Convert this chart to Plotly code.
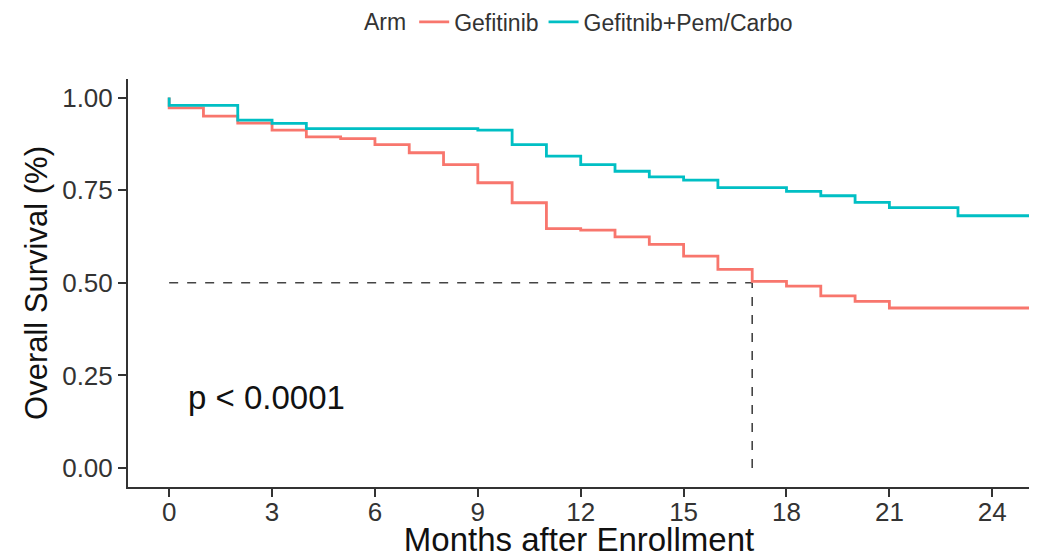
import plotly.graph_objects as go

# Kaplan-Meier step data
arm_names = ["Gefitinib", "Gefitnib+Pem/Carbo"]
arm_colors = ["#F8766D", "#00BFC4"]

gef_time = [0, 0, 1, 2, 3, 4, 5, 6, 7, 8, 9, 10, 11, 12, 13, 14, 15, 16, 17, 18, 19, 20, 21, 25.1]
gef_surv = [1.0, 0.972, 0.95, 0.931, 0.912, 0.894, 0.889, 0.873, 0.851, 0.819, 0.770, 0.716, 0.646,
            0.642, 0.624, 0.604, 0.572, 0.536, 0.504, 0.491, 0.465, 0.450, 0.432, 0.432]

combo_time = [0, 0, 2, 3, 4, 9, 10, 11, 12, 13, 14, 15, 16, 18, 19, 20, 21, 23, 25.1]
combo_surv = [1.0, 0.979, 0.939, 0.930, 0.916, 0.912, 0.873, 0.842, 0.819, 0.801, 0.786, 0.777,
              0.757, 0.747, 0.735, 0.717, 0.703, 0.681, 0.681]

median_time = 17
median_surv = 0.5
p_text = "p < 0.0001"
p_pos = (0.49, 0.19)

x_ticks = [0, 3, 6, 9, 12, 15, 18, 21, 24]
y_ticks = [0.0, 0.25, 0.5, 0.75, 1.0]
y_tick_labels = ["0.00", "0.25", "0.50", "0.75", "1.00"]

FONT = "Liberation Sans, Arial, sans-serif"
H = 550

fig = go.Figure()

# median reference lines
fig.add_trace(go.Scatter(x=[0, median_time], y=[median_surv, median_surv], mode="lines",
                         line=dict(color="#444444", width=1.6, dash="dash"),
                         showlegend=False, hoverinfo="skip"))
fig.add_trace(go.Scatter(x=[median_time, median_time], y=[0, median_surv], mode="lines",
                         line=dict(color="#444444", width=1.6, dash="dash"),
                         showlegend=False, hoverinfo="skip"))

for name, col, t, s in [(arm_names[0], arm_colors[0], gef_time, gef_surv),
                        (arm_names[1], arm_colors[1], combo_time, combo_surv)]:
    fig.add_trace(go.Scatter(x=t, y=s, mode="lines", name=name,
                             line=dict(color=col, width=2.8, shape="hv")))

fig.add_annotation(x=p_pos[0], y=p_pos[1], text=p_text, showarrow=False,
                   xanchor="left", yanchor="middle",
                   font=dict(family=FONT, size=33, color="#111111"))

fig.update_layout(
    width=1037, height=H,
    margin=dict(l=120, r=15, t=71, b=H - 479, autoexpand=False),
    paper_bgcolor="white", plot_bgcolor="white",
    font=dict(family=FONT, color="#333333"),
    legend=dict(orientation="h", xref="container", yref="container",
                x=0.5516, xanchor="center", y=1 - 14 / H, yanchor="middle",
                title=dict(text="Arm", font=dict(size=23, color="#333333")),
                font=dict(size=23, color="#333333"),
                bgcolor="rgba(0,0,0,0)"),
)

fig.update_xaxes(range=[-1.2, 25.1], tickvals=x_ticks, ticktext=[str(v) for v in x_ticks],
                 showgrid=False, zeroline=False, showline=True, linecolor="#333333", linewidth=2,
                 ticks="outside", ticklen=8, tickwidth=1.5, tickcolor="#333333",
                 tickfont=dict(size=26, color="#333333"), ticklabelstandoff=-7, automargin=True,
                 title=dict(text="Months after Enrollment", font=dict(size=33, color="#111111"),
                            standoff=0))
fig.update_yaxes(range=[-0.051, 1.05], tickvals=y_ticks, ticktext=y_tick_labels,
                 showgrid=False, zeroline=False, showline=True, linecolor="#333333", linewidth=2,
                 ticks="outside", ticklen=8, tickwidth=1.5, tickcolor="#333333",
                 tickfont=dict(size=26, color="#333333"), automargin=False,
                 title=dict(text="Overall Survival (%)", font=dict(size=31, color="#111111"),
                            standoff=5))

fig.write_html("out.html")
